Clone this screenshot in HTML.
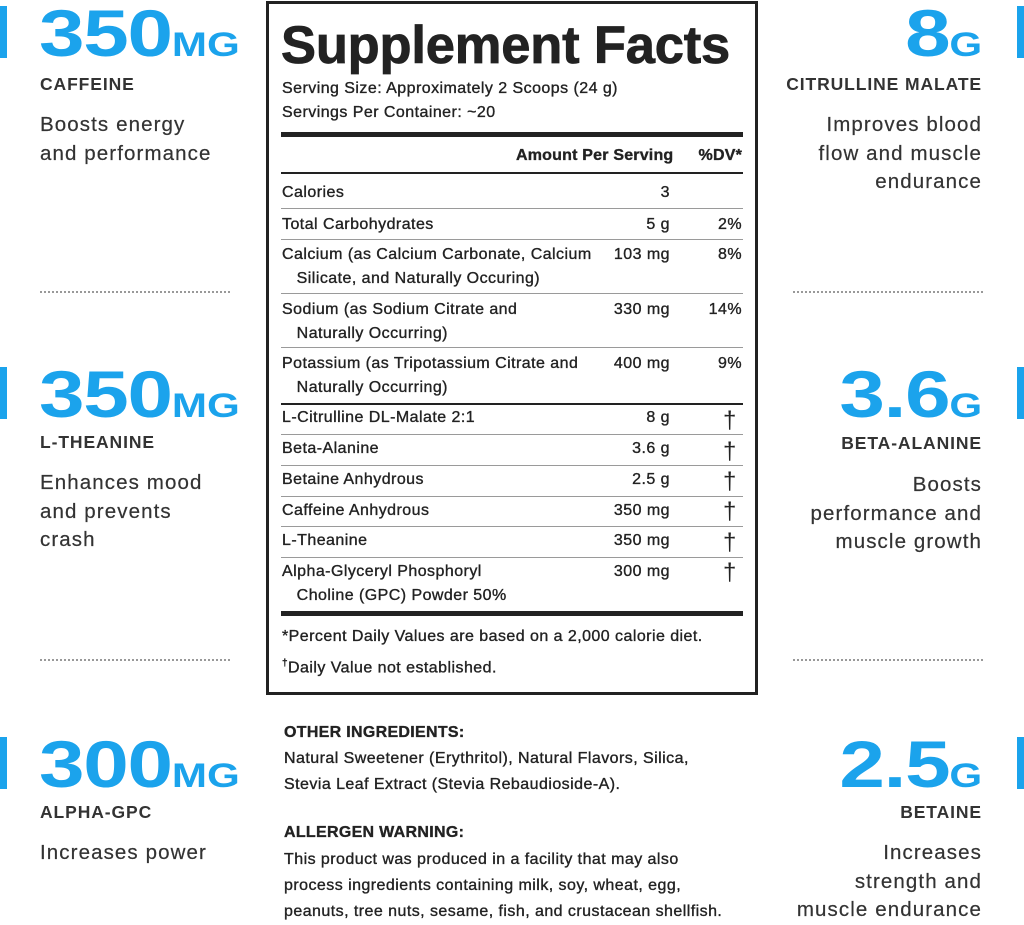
<!DOCTYPE html>
<html><head><meta charset="utf-8"><style>
*{margin:0;padding:0;box-sizing:border-box}
body{width:1024px;height:921px;background:#fff;position:relative;overflow:hidden;font-family:"Liberation Sans",Arial,sans-serif;color:#2b2b2e}
.a{position:absolute;white-space:nowrap}
.big{font-size:66px;line-height:66px;font-weight:bold;color:#1ba3ec;letter-spacing:-1px;transform:scaleX(1.24);transform-origin:left top}
.big.r{transform-origin:right top}
.big span{font-size:34px;letter-spacing:0}
.lab{font-size:17.5px;line-height:24px;font-weight:bold;color:#333;letter-spacing:0.9px}
.desc{font-size:20.5px;line-height:28.5px;color:#333;letter-spacing:1.1px;-webkit-text-stroke:0.2px #333}
.r{text-align:right}
.bar{position:absolute;width:7px;background:#1ba3ec}
.dot{position:absolute;height:0;border-top:2px dotted #999}
.t{position:absolute;font-size:16px;line-height:24px;color:#222;white-space:nowrap;letter-spacing:0.45px;-webkit-text-stroke:0.35px #222}
.ln{position:absolute;left:281px;width:462px;height:1px;background:#9a9a9a}
.th{position:absolute;left:281px;width:462px;background:#222}
.dg{position:absolute;font-size:24px;line-height:24px;left:723px;color:#222}
</style></head><body>
<!-- left column -->
<div class="bar" style="left:0;top:6px;height:52px"></div>
<div class="a big" style="left:39px;top:0">350<span>MG</span></div>
<div class="a lab" style="left:40px;top:72px">CAFFEINE</div>
<div class="a desc" style="left:40px;top:111px">Boosts energy<br>and performance</div>
<div class="dot" style="left:40px;width:190px;top:291px"></div>

<div class="bar" style="left:0;top:367px;height:52px"></div>
<div class="a big" style="left:39px;top:361px">350<span>MG</span></div>
<div class="a lab" style="left:40px;top:430px">L-THEANINE</div>
<div class="a desc" style="left:40px;top:469px">Enhances mood<br>and prevents<br>crash</div>
<div class="dot" style="left:40px;width:190px;top:659px"></div>

<div class="bar" style="left:0;top:737px;height:52px"></div>
<div class="a big" style="left:39px;top:731px">300<span>MG</span></div>
<div class="a lab" style="left:40px;top:800px">ALPHA-GPC</div>
<div class="a desc" style="left:40px;top:839px">Increases power</div>

<!-- right column -->
<div class="bar" style="left:1017px;top:6px;height:52px"></div>
<div class="a big r" style="right:42px;top:0">8<span>G</span></div>
<div class="a lab r" style="right:42px;top:72px">CITRULLINE MALATE</div>
<div class="a desc r" style="right:42px;top:111px">Improves blood<br>flow and muscle<br>endurance</div>
<div class="dot" style="left:793px;width:190px;top:291px"></div>

<div class="bar" style="left:1017px;top:367px;height:52px"></div>
<div class="a big r" style="right:42px;top:361px">3.6<span>G</span></div>
<div class="a lab r" style="right:42px;top:431px">BETA-ALANINE</div>
<div class="a desc r" style="right:42px;top:471px">Boosts<br>performance and<br>muscle growth</div>
<div class="dot" style="left:793px;width:190px;top:659px"></div>

<div class="bar" style="left:1017px;top:737px;height:52px"></div>
<div class="a big r" style="right:42px;top:731px">2.5<span>G</span></div>
<div class="a lab r" style="right:42px;top:800px">BETAINE</div>
<div class="a desc r" style="right:42px;top:839px">Increases<br>strength and<br>muscle endurance</div>

<!-- facts box -->
<div style="position:absolute;left:266px;top:1px;width:492px;height:694px;border:3px solid #222"></div>
<div class="a" style="left:281px;top:16px;font-size:52.5px;line-height:60px;font-weight:bold;color:#222;letter-spacing:-0.2px;-webkit-text-stroke:0.8px #222">Supplement Facts</div>
<div class="t" style="left:282px;top:77px">Serving Size: Approximately 2 Scoops (24 g)</div>
<div class="t" style="left:282px;top:101px">Servings Per Container: ~20</div>
<div class="th" style="top:132px;height:5px"></div>
<div class="t" style="left:516px;top:144px;font-weight:bold;letter-spacing:0.2px">Amount Per Serving</div>
<div class="t" style="right:282px;top:144px;font-weight:bold;letter-spacing:0.2px">%DV*</div>
<div class="th" style="top:172px;height:2px"></div>

<div class="t" style="left:282px;top:181px">Calories</div>
<div class="t" style="right:354px;top:181px">3</div>
<div class="ln" style="top:208px"></div>
<div class="t" style="left:282px;top:213px">Total Carbohydrates</div>
<div class="t" style="right:354px;top:213px">5 g</div>
<div class="t" style="right:282px;top:213px">2%</div>
<div class="ln" style="top:239px"></div>
<div class="t" style="left:282px;top:243px">Calcium (as Calcium Carbonate, Calcium<br>&nbsp;&nbsp;&nbsp;Silicate, and Naturally Occuring)</div>
<div class="t" style="right:354px;top:243px">103 mg</div>
<div class="t" style="right:282px;top:243px">8%</div>
<div class="ln" style="top:293px"></div>
<div class="t" style="left:282px;top:298px">Sodium (as Sodium Citrate and<br>&nbsp;&nbsp;&nbsp;Naturally Occurring)</div>
<div class="t" style="right:354px;top:298px">330 mg</div>
<div class="t" style="right:282px;top:298px">14%</div>
<div class="ln" style="top:347px"></div>
<div class="t" style="left:282px;top:352px">Potassium (as Tripotassium Citrate and<br>&nbsp;&nbsp;&nbsp;Naturally Occurring)</div>
<div class="t" style="right:354px;top:352px">400 mg</div>
<div class="t" style="right:282px;top:352px">9%</div>
<div class="th" style="top:403px;height:2px"></div>

<div class="t" style="left:282px;top:406px">L-Citrulline DL-Malate 2:1</div>
<div class="t" style="right:354px;top:406px">8 g</div>
<div class="dg" style="top:409px">†</div>
<div class="ln" style="top:434px"></div>
<div class="t" style="left:282px;top:437px">Beta-Alanine</div>
<div class="t" style="right:354px;top:437px">3.6 g</div>
<div class="dg" style="top:440px">†</div>
<div class="ln" style="top:465px"></div>
<div class="t" style="left:282px;top:468px">Betaine Anhydrous</div>
<div class="t" style="right:354px;top:468px">2.5 g</div>
<div class="dg" style="top:470px">†</div>
<div class="ln" style="top:496px"></div>
<div class="t" style="left:282px;top:499px">Caffeine Anhydrous</div>
<div class="t" style="right:354px;top:499px">350 mg</div>
<div class="dg" style="top:500px">†</div>
<div class="ln" style="top:526px"></div>
<div class="t" style="left:282px;top:529px">L-Theanine</div>
<div class="t" style="right:354px;top:529px">350 mg</div>
<div class="dg" style="top:531px">†</div>
<div class="ln" style="top:557px"></div>
<div class="t" style="left:282px;top:560px">Alpha-Glyceryl Phosphoryl<br>&nbsp;&nbsp;&nbsp;Choline (GPC) Powder 50%</div>
<div class="t" style="right:354px;top:560px">300 mg</div>
<div class="dg" style="top:561px">†</div>
<div class="th" style="top:611px;height:5px"></div>
<div class="t" style="left:282px;top:625px">*Percent Daily Values are based on a 2,000 calorie diet.</div>
<div class="t" style="left:282px;top:652px"><sup style="font-size:10px">†</sup>Daily Value not established.</div>

<!-- bottom text -->
<div class="t" style="left:284px;top:721px;font-weight:bold;letter-spacing:0.3px">OTHER INGREDIENTS:</div>
<div class="t" style="left:284px;top:746px;line-height:26px">Natural Sweetener (Erythritol), Natural Flavors, Silica,<br>Stevia Leaf Extract (Stevia Rebaudioside-A).</div>
<div class="t" style="left:284px;top:821px;font-weight:bold;letter-spacing:0.3px">ALLERGEN WARNING:</div>
<div class="t" style="left:284px;top:847px;line-height:26px">This product was produced in a facility that may also<br>process ingredients containing milk, soy, wheat, egg,<br>peanuts, tree nuts, sesame, fish, and crustacean shellfish.</div>
</body></html>
